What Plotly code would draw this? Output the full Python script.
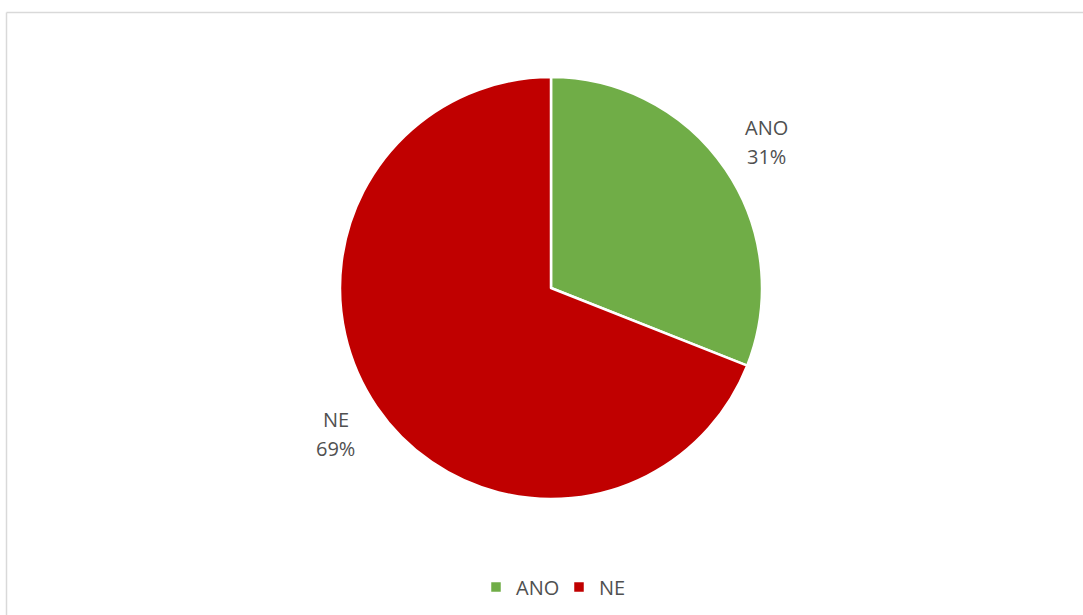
import math
import plotly.graph_objects as go

labels = ["ANO", "NE"]
values = [31, 69]
colors = ["#70AD47", "#C00000"]

W, H = 1083, 615
cx, cy, R = 551, 288, 211

fig = go.Figure()
fig.add_trace(go.Pie(
    labels=labels, values=values, sort=False, direction="clockwise", rotation=0,
    marker=dict(colors=colors, line=dict(color="white", width=2.5)),
    textinfo="none", hoverinfo="label+percent",
    domain=dict(x=[(cx - R) / W, (cx + R) / W], y=[(H - cy - R) / H, (H - cy + R) / H]),
))

# labels placed outside each slice at its mid-angle
total = sum(values)
acc = 0
annotations = []
for lab, v in zip(labels, values):
    mid = (acc + v / 2) / total * 2 * math.pi
    acc += v
    r = R * 1.232
    x = cx + r * math.sin(mid)
    y = cy - r * math.cos(mid)
    for txt, dy in ((lab, -14.5), (f"{round(v / total * 100)}%", 14.5)):
        annotations.append(dict(
            x=x / W, y=1 - (y + dy) / H, xref="paper", yref="paper",
            text=txt, showarrow=False,
            font=dict(family="Open Sans", size=20, color="#505050"),
            align="center", xanchor="center", yanchor="middle",
        ))

fig.update_layout(
    width=W, height=H,
    margin=dict(l=0, r=0, t=0, b=0),
    paper_bgcolor="white", plot_bgcolor="white",
    annotations=annotations,
    showlegend=True,
    legend=dict(orientation="h", x=559 / W, xanchor="center", y=1 - 587 / H, yanchor="middle",
                font=dict(family="Open Sans", size=20, color="#505050"),
                itemwidth=30, traceorder="normal", entrywidth=38, entrywidthmode="pixels"),
    shapes=[
        dict(type="line", xref="paper", yref="paper", x0=6.5 / W, x1=1, y0=1 - 12.5 / H, y1=1 - 12.5 / H,
             line=dict(color="#D9D9D9", width=1.5)),
        dict(type="line", xref="paper", yref="paper", x0=6.5 / W, x1=6.5 / W, y0=0, y1=1 - 12.5 / H,
             line=dict(color="#D9D9D9", width=1.5)),
    ],
)

fig.write_html("out.html", config={"displayModeBar": False},
               post_script="document.body.style.margin='0';document.body.style.overflow='hidden';")
